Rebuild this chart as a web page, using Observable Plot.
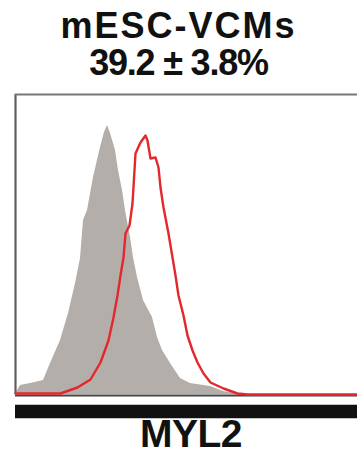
<!DOCTYPE html>
<html>
<head>
<meta charset="utf-8">
<script src="https://cdn.jsdelivr.net/npm/d3@7"></script>
<script src="https://cdn.jsdelivr.net/npm/@observablehq/plot@0.6"></script>
<style>
  html, body { margin: 0; padding: 0; background: #fff; }
  #wrap { position: relative; width: 357px; height: 460px; overflow: hidden; font-family: "Liberation Sans", Arial, sans-serif; font-weight: bold; color: #111; }
  #wrap svg { position: absolute; left: 0; top: 0; }
  .t { position: absolute; left: 0; width: 357px; text-align: center; font-size: 36px; line-height: 37px; white-space: nowrap; }
  #t1 { top: 7px; letter-spacing: 2px; }
  #t2 { top: 44px; letter-spacing: -1.2px; }
  #xl { position: absolute; left: 140px; top: 414px; font-size: 39px; line-height: 40px; letter-spacing: -0.5px; white-space: nowrap; }
</style>
</head>
<body>
<div id="wrap">
  <div class="t" id="t1">mESC-VCMs</div>
  <div class="t" id="t2">39.2 ± 3.8%</div>
  <div id="xl">MYL2</div>
</div>
<script>
// Control (isotype) histogram, gray filled: channel, count
const controlX = [0, 2, 5, 15, 28, 35, 45, 53, 60, 65, 68, 72, 78, 85, 89, 92, 95, 100, 103, 107, 110, 115, 118, 122, 128, 137, 142, 147, 155, 165, 175, 195, 208, 225, 342];
const controlY = [0, 4, 9, 11, 14, 31, 54, 81, 111, 136, 174, 184, 217, 247, 262, 269, 261, 244, 224, 204, 184, 157, 137, 117, 94, 77, 57, 44, 31, 16, 11, 8, 3, 0, 0];
// MYL2 histogram, red outline: channel, count
const myl2X = [0, 45, 62, 75, 85, 93, 98, 102, 105, 108, 110, 114, 117, 120, 125, 130, 132, 135, 140, 143, 145, 148, 153, 157, 160, 163, 168, 172, 177, 182, 188, 195, 208, 222, 232, 342];
const myl2Y = [1, 1, 7, 15, 32, 54, 77, 99, 119, 137, 161, 169, 191, 241, 252, 259, 254, 236, 237, 227, 207, 187, 161, 137, 119, 99, 79, 59, 44, 32, 21, 12, 6, 1, 0, 0];

const control = controlX.map((x, i) => ({x, y: controlY[i]}));
const myl2 = myl2X.map((x, i) => ({x, y: myl2Y[i]}));

const chart = Plot.plot({
  width: 357,
  height: 460,
  marginTop: 94,
  marginBottom: 66,
  marginLeft: 15,
  marginRight: 0,
  x: {domain: [0, 342], axis: null},
  y: {domain: [0, 300], axis: null},
  style: {background: "transparent"},
  marks: [
    Plot.areaY(control, {x: "x", y: "y", fill: "#b4aeab"}),
    Plot.ruleX([0], {stroke: "#5e5e5e", strokeWidth: 2.2}),
    Plot.ruleY([300], {stroke: "#777", strokeWidth: 2.2}),
    Plot.ruleY([0], {stroke: "#444", strokeWidth: 2, dy: 1}),
    Plot.ruleY([0], {stroke: "#111", strokeWidth: 13.5, dy: 17}),
    Plot.lineY(myl2, {x: "x", y: "y", stroke: "#e3272d", strokeWidth: 2.4})
  ]
});
document.getElementById("wrap").prepend(chart);
</script>
</body>
</html>
